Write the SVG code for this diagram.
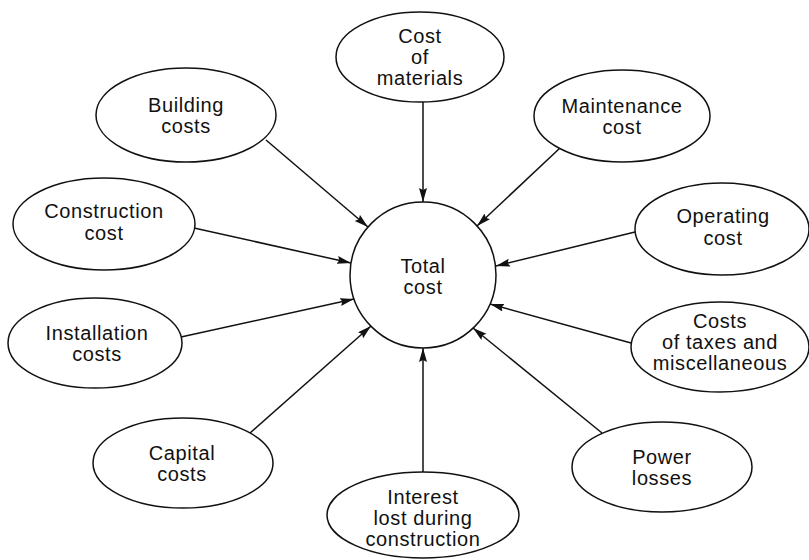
<svg xmlns="http://www.w3.org/2000/svg" width="809" height="560" viewBox="0 0 809 560">
<style>
.n{fill:#fff;stroke:#111;stroke-width:1.5}
.t{font-family:"Liberation Sans",Arial,sans-serif;font-size:20px;letter-spacing:0.6px;fill:#111;text-anchor:middle}
.c line{stroke:#111;stroke-width:1.5;marker-end:url(#ah)}
</style>
<defs>
<marker id="ah" markerUnits="userSpaceOnUse" markerWidth="15" markerHeight="9" refX="14" refY="4" orient="auto">
<path d="M0,0 L14,4 L0,8 L2,4 z" fill="#111"/>
</marker>
</defs>
<rect width="809" height="560" fill="#fff"/>
<g class="c" id="connectors">
<line x1="423" y1="102" x2="423" y2="202"/>
<line x1="266" y1="140" x2="368" y2="227"/>
<line x1="560" y1="148" x2="477" y2="226"/>
<line x1="194" y1="228" x2="351" y2="263"/>
<line x1="635" y1="232" x2="496" y2="266"/>
<line x1="181" y1="337" x2="354" y2="299"/>
<line x1="631" y1="343" x2="490" y2="304"/>
<line x1="250" y1="433" x2="371" y2="326"/>
<line x1="602" y1="433" x2="473" y2="328"/>
<line x1="423" y1="472" x2="423" y2="348"/>
</g>
<g id="total">
<circle class="n" cx="423" cy="275" r="73"/>
<text class="t" x="423" y="273">Total</text>
<text class="t" x="423" y="294">cost</text>
</g>
<g id="materials">
<ellipse class="n" cx="420" cy="57" rx="84" ry="45"/>
<text class="t" x="420" y="43">Cost</text>
<text class="t" x="420" y="64">of</text>
<text class="t" x="420" y="85">materials</text>
</g>
<g id="building">
<ellipse class="n" cx="186" cy="115" rx="90" ry="47"/>
<text class="t" x="186" y="112">Building</text>
<text class="t" x="186" y="133">costs</text>
</g>
<g id="maintenance">
<ellipse class="n" cx="622" cy="116" rx="88" ry="46"/>
<text class="t" x="622" y="113">Maintenance</text>
<text class="t" x="622" y="134">cost</text>
</g>
<g id="construction">
<ellipse class="n" cx="104" cy="224" rx="91" ry="46"/>
<text class="t" x="104" y="218">Construction</text>
<text class="t" x="104" y="240">cost</text>
</g>
<g id="operating">
<ellipse class="n" cx="722" cy="229" rx="87" ry="46"/>
<text class="t" x="723" y="223">Operating</text>
<text class="t" x="723" y="245">cost</text>
</g>
<g id="installation">
<ellipse class="n" cx="95" cy="343" rx="87" ry="45"/>
<text class="t" x="97" y="340">Installation</text>
<text class="t" x="97" y="361">costs</text>
</g>
<g id="taxes">
<ellipse class="n" cx="720" cy="347" rx="89" ry="45"/>
<text class="t" x="720" y="328">Costs</text>
<text class="t" x="720" y="349">of taxes and</text>
<text class="t" x="720" y="370">miscellaneous</text>
</g>
<g id="capital">
<ellipse class="n" cx="183" cy="463" rx="90" ry="45"/>
<text class="t" x="182" y="460">Capital</text>
<text class="t" x="182" y="481">costs</text>
</g>
<g id="power">
<ellipse class="n" cx="662" cy="467" rx="90" ry="45"/>
<text class="t" x="662" y="464">Power</text>
<text class="t" x="662" y="485">losses</text>
</g>
<g id="interest">
<ellipse class="n" cx="423" cy="515" rx="96" ry="43"/>
<text class="t" x="423" y="504">Interest</text>
<text class="t" x="423" y="525">lost during</text>
<text class="t" x="423" y="546">construction</text>
</g>
</svg>
